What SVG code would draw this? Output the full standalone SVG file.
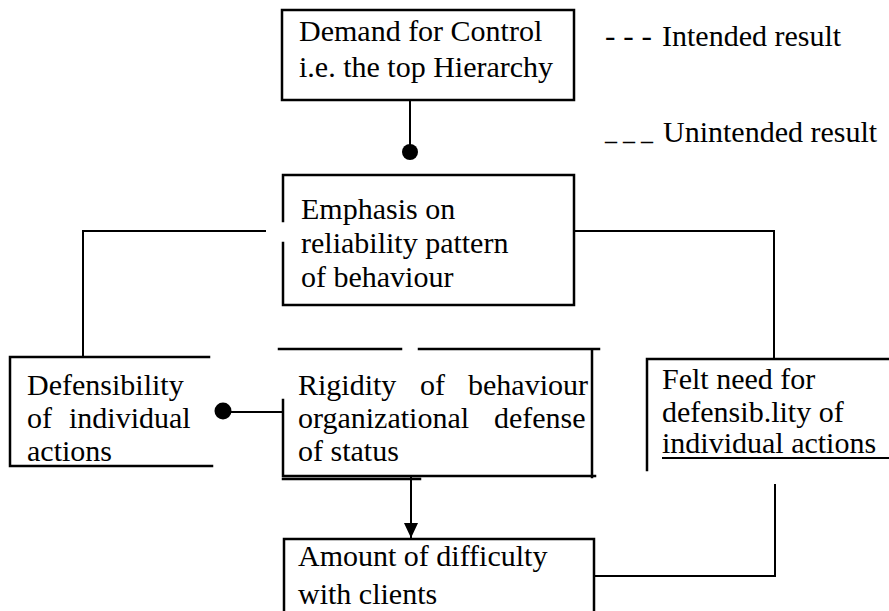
<svg xmlns="http://www.w3.org/2000/svg" width="889" height="611" viewBox="0 0 889 611">
<style>
text{font-family:"Liberation Serif","Times New Roman",serif;font-size:30px;fill:#000}
.f{fill:none;stroke:#000;stroke-width:2.5;stroke-linecap:square}
.c{fill:none;stroke:#000;stroke-width:2}
</style>
<defs>
<marker id="arr" viewBox="0 0 15 14" refX="15" refY="7" markerWidth="15" markerHeight="14" markerUnits="userSpaceOnUse" orient="auto">
<path d="M0,0 L15,7 L0,14 Z" fill="#000"/>
</marker>
</defs>
<rect width="889" height="611" fill="#fff"/>

<g id="legend">
<text x="605" y="46" textLength="47" lengthAdjust="spacingAndGlyphs">- - -</text>
<text x="662" y="46">Intended result</text>
<text x="605" y="140" textLength="48" lengthAdjust="spacingAndGlyphs">_ _ _</text>
<text x="663" y="142">Unintended result</text>
</g>

<g id="demand">
<rect class="f" x="282" y="10" width="292" height="90"/>
<text x="299" y="41">Demand for Control</text>
<text x="299" y="77">i.e. the top Hierarchy</text>
</g>

<g id="emphasis">
<path class="f" d="M283,221 V175 H574 V305 H283 V243"/>
<text x="301" y="219">Emphasis on</text>
<text x="301" y="253">reliability pattern</text>
<text x="301" y="287">of behaviour</text>
</g>

<g id="defensibility">
<path class="f" d="M209,357 H10 V466 H212"/>
<text y="395"><tspan x="27">Defensibility</tspan></text>
<text y="428"><tspan x="27">of</tspan><tspan x="69">individual</tspan></text>
<text y="461"><tspan x="27">actions</tspan></text>
</g>

<g id="rigidity">
<path class="f" d="M279,349 H401 M419,349 H599 M592,351 V477 M283,400 V476 H595 M283,479 H420"/>
<text y="395"><tspan x="298">Rigidity</tspan><tspan x="420">of</tspan><tspan x="468">behaviour</tspan></text>
<text y="428"><tspan x="298">organizational</tspan><tspan x="494">defense</tspan></text>
<text y="461"><tspan x="298">of status</tspan></text>
</g>

<g id="feltneed">
<path class="f" d="M889,359 H647 V470"/>
<text x="662" y="389">Felt need for</text>
<text x="662" y="422">defensib.lity of</text>
<text x="662" y="453">individual actions</text>
<line class="c" x1="662" y1="458" x2="889" y2="458"/>
</g>

<g id="amount">
<path class="f" d="M284,612 V539 H594 V612"/>
<text x="298" y="566">Amount of difficulty</text>
<text x="298" y="604">with clients</text>
</g>

<g id="connectors">
<line class="c" x1="410" y1="100" x2="410" y2="150"/>
<circle cx="410" cy="152" r="8" fill="#000"/>
<path class="c" d="M266,231 H83 V357"/>
<path class="c" d="M574,231 H774 V359"/>
<line class="c" x1="231" y1="412" x2="283" y2="412"/>
<circle cx="223" cy="411" r="8.5" fill="#000"/>
<line class="c" x1="411" y1="477" x2="411" y2="538" marker-end="url(#arr)"/>
<path class="c" d="M775,484 V576 H594"/>
</g>
</svg>
